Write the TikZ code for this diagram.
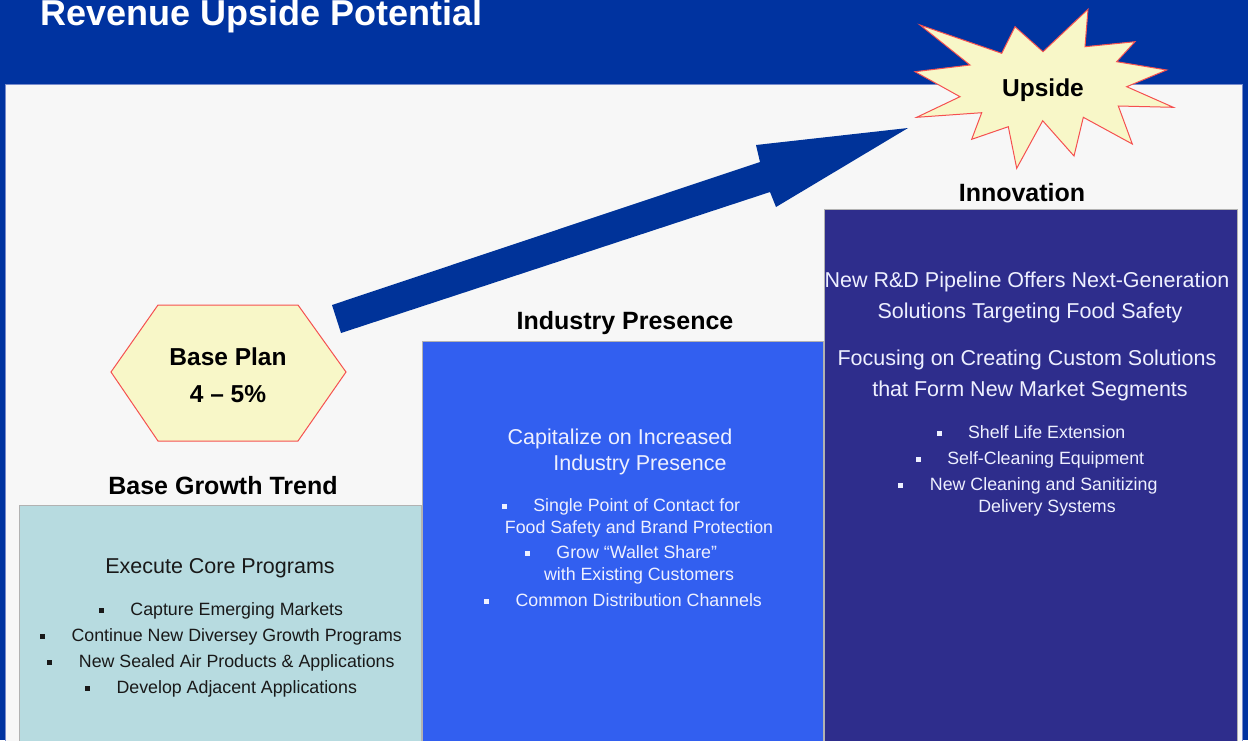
\documentclass[tikz,border=0pt]{standalone}
\usepackage{fontspec}
\setmainfont{Liberation Sans}
\definecolor{hdrblue}{RGB}{0,51,160}
\definecolor{panelbg}{RGB}{247,247,247}
\definecolor{panelline}{RGB}{120,140,205}
\definecolor{tealbox}{RGB}{183,219,224}
\definecolor{brightbox}{RGB}{50,95,240}
\definecolor{indigobox}{RGB}{46,45,140}
\definecolor{arrowblue}{RGB}{0,51,153}
\definecolor{paleyellow}{RGB}{248,247,200}
\definecolor{redline}{RGB}{245,80,80}
\definecolor{darktext}{RGB}{25,25,25}
\definecolor{lighttext}{RGB}{238,240,255}
\newcommand{\bul}{\makebox[31.5pt][l]{\rule[2.2pt]{5pt}{5pt}}}
\begin{document}
\begin{tikzpicture}[x=1pt,y=-1pt,
  lbl/.style={inner sep=0pt, anchor=base},
  titletext/.style={lbl, anchor=base west, text=white, font=\fontsize{36}{40}\selectfont\bfseries},
  heading/.style={lbl, text=black, font=\fontsize{25}{29}\selectfont\bfseries},
  shapetext/.style={lbl, text=black, font=\fontsize{24.5}{28}\selectfont\bfseries},
  leadtext/.style={lbl, font=\fontsize{21.5}{25}\selectfont},
  itemtext/.style={lbl, font=\fontsize{17.8}{21}\selectfont},
  colbox/.style={draw=gray!60, line width=0.8pt},
  callout/.style={fill=paleyellow, draw=redline, line width=1pt, line join=miter}
]
\useasboundingbox (0,0) rectangle (1248,740);

% header band and white panel
\fill[hdrblue] (0,0) rectangle (1248,740);
\draw[panelline, fill=panelbg, line width=1pt] (5.5,84) rectangle (1242,750);
\node[titletext] (title) at (40,25) {Revenue Upside Potential};

% three stepped columns
\draw[colbox, fill=tealbox] (19,505) rectangle (421,745);
\draw[colbox, fill=brightbox] (422,341) rectangle (823,745);
\draw[colbox, fill=indigobox] (824,209) rectangle (1237,745);

% rising block arrow
\fill[arrowblue] (332,305) -- (760,162) -- (756,145) -- (908,128)
  -- (776,207) -- (770,192) -- (341,333) -- cycle;

% base plan hexagon
\draw[callout] (111,372) -- (158,305) -- (298,305) -- (346,372)
  -- (298,441) -- (158,441) -- cycle;
\node[shapetext] (plan1) at (228,365) {Base Plan};
\node[shapetext] (plan2) at (228,402) {4 – 5\%};

% upside starburst
\draw[callout] (920,25) -- (1001.7,53.3) -- (1015,26.7) -- (1043,51.7)
  -- (1088,9.3) -- (1085,46.7) -- (1135,41.7) -- (1116.7,61.7)
  -- (1166.7,70) -- (1126.7,86.7) -- (1173.3,107.3) -- (1118.3,106)
  -- (1132.3,144) -- (1083.3,117.3) -- (1074,156) -- (1042.7,120.7)
  -- (1016.7,168.3) -- (1008.3,126.7) -- (971.7,139.3) -- (981.7,112.7)
  -- (916.7,117.3) -- (960,96.7) -- (915,71.7) -- (970,65) -- cycle;
\node[shapetext] (upside) at (1043,96) {Upside};

% column headings
\node[heading] (hbase) at (223,494) {Base Growth Trend};
\node[heading] (hind) at (625,329) {Industry Presence};
\node[heading] (hinno) at (1022,201) {Innovation};

% base growth column
\begin{scope}[text=darktext]
\node[leadtext] (b0) at (220,573) {Execute Core Programs};
\node[itemtext] (b1) at (221,615) {\bul Capture Emerging Markets};
\node[itemtext] (b2) at (221,641) {\bul Continue New Diversey Growth Programs};
\node[itemtext] (b3) at (221,667) {\bul New Sealed Air Products \& Applications};
\node[itemtext] (b4) at (221,693) {\bul Develop Adjacent Applications};
\end{scope}

% industry presence column
\begin{scope}[text=lighttext]
\node[leadtext] (i0a) at (620,444) {Capitalize on Increased};
\node[leadtext] (i0b) at (640,470) {Industry Presence};
\node[itemtext] (i1a) at (621,511) {\bul Single Point of Contact for};
\node[itemtext] (i1b) at (639,533) {Food Safety and Brand Protection};
\node[itemtext] (i2a) at (621,558) {\bul Grow “Wallet Share”};
\node[itemtext] (i2b) at (639,580) {with Existing Customers};
\node[itemtext] (i3) at (623,606) {\bul Common Distribution Channels};
\end{scope}

% innovation column
\begin{scope}[text=lighttext]
\node[leadtext] (n0a) at (1027,287) {New R\&D Pipeline Offers Next-Generation};
\node[leadtext] (n0b) at (1030,318) {Solutions Targeting Food Safety};
\node[leadtext] (n1a) at (1027,365) {Focusing on Creating Custom Solutions};
\node[leadtext] (n1b) at (1030,396) {that Form New Market Segments};
\node[itemtext] (n2) at (1031,438) {\bul Shelf Life Extension};
\node[itemtext] (n3) at (1030,464) {\bul Self-Cleaning Equipment};
\node[itemtext] (n4a) at (1028,490) {\bul New Cleaning and Sanitizing};
\node[itemtext] (n4b) at (1047,512) {Delivery Systems};
\end{scope}
\end{tikzpicture}
\end{document}
